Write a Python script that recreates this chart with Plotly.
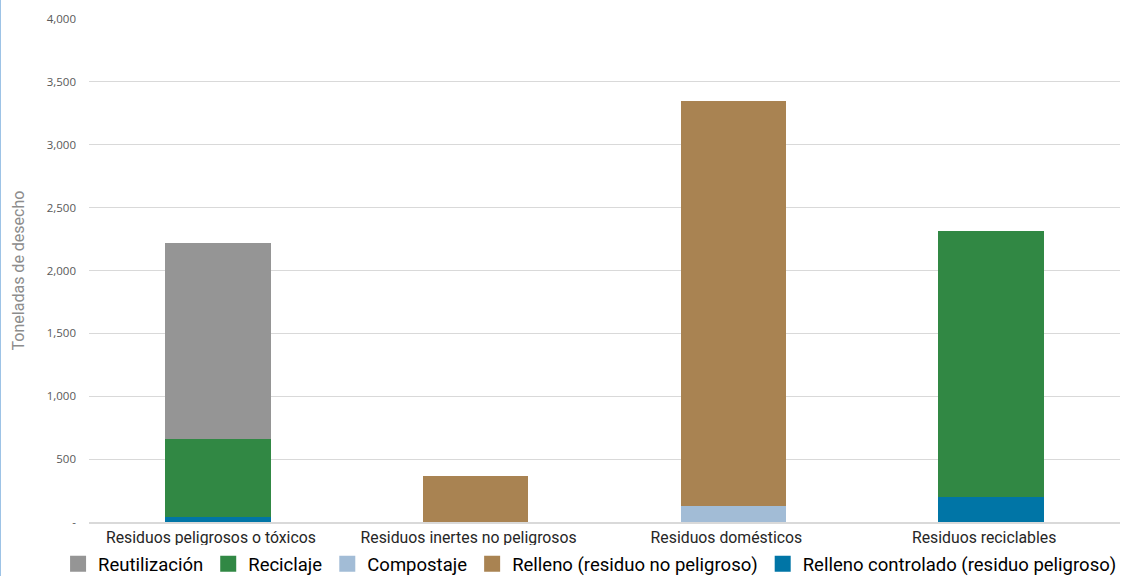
import plotly.graph_objects as go

categories = [
    "Residuos peligrosos o tóxicos",
    "Residuos inertes no peligrosos",
    "Residuos domésticos",
    "Residuos reciclables",
]

# stacked from bottom to top
relleno_controlado = [40, 0, 0, 199]
relleno = [0, 366, 3220, 0]
compostaje = [0, 0, 127, 0]
reciclaje = [620, 0, 0, 2115]
reutilizacion = [1560, 0, 0, 0]

tick_vals = [0, 500, 1000, 1500, 2000, 2500, 3000, 3500, 4000]
tick_text = ["-", "500", "1,000", "1,500", "2,000", "2,500", "3,000", "3,500", "4,000"]

# (name, values, colour, legend rank) in stacking order
series = [
    ("Relleno controlado (residuo peligroso)", relleno_controlado, "#0075a6", 5),
    ("Compostaje", compostaje, "#a2bcd6", 3),
    ("Relleno (residuo no peligroso)", relleno, "#a98352", 4),
    ("Reciclaje", reciclaje, "#318844", 2),
    ("Reutilización", reutilizacion, "#959595", 1),
]

fig = go.Figure()
for name, vals, color, rank in series:
    fig.add_trace(go.Bar(
        x=categories, y=vals, name=name,
        marker={"color": color, "line": {"width": 0}},
        showlegend=False,
    ))
    # bigger square swatches for the legend
    fig.add_trace(go.Scatter(
        x=[None], y=[None], mode="markers", name=name,
        marker={"symbol": "square", "size": 16, "color": color},
        legendrank=rank,
    ))

L, R, T, B = 89, 6, 19, 54
plot_w = 1126 - L - R

fig.update_layout(
    barmode="stack",
    bargap=0.59,
    width=1126, height=576,
    margin={"l": L, "r": R, "t": T, "b": B, "autoexpand": False},
    plot_bgcolor="white", paper_bgcolor="white",
    font={"family": "Roboto, sans-serif", "color": "#262626"},
    yaxis={
        "range": [0, 4000],
        "tickvals": tick_vals, "ticktext": tick_text,
        "tickfont": {"size": 11.5, "color": "#595959", "family": "Open Sans, sans-serif"},
        "ticklabelstandoff": 12,
        "gridcolor": "#d9d9d9", "gridwidth": 1,
        "zeroline": False,
        "ticks": "", "ticklen": 0,
        "automargin": False,
        "title": {"text": "Toneladas de desecho",
                  "font": {"size": 16, "color": "#8c8c8c"}, "standoff": 18},
        "fixedrange": True,
    },
    xaxis={
        "tickfont": {"size": 15.8, "color": "#262626"},
        "ticklabelshift": -7,
        "showline": True, "linecolor": "#d9d9d9", "linewidth": 2,
        "ticks": "",
        "automargin": False,
        "fixedrange": True,
    },
    # anchored left of the plot area so the legend may use the full width
    legend={
        "orientation": "h", "x": -0.03, "xanchor": "left",
        "y": -0.046, "yanchor": "top",
        "font": {"size": 18.5, "color": "#000000"},
        "traceorder": "normal",
        "itemwidth": 30,
    },
    showlegend=True,
)

# thin blue frame line at the page's left edge
fig.add_shape(type="line", xref="paper", yref="paper",
              x0=-(L - 0.5) / plot_w, x1=-(L - 0.5) / plot_w,
              y0=-B / (576 - T - B), y1=1 + T / (576 - T - B),
              line={"color": "#9dc3e6", "width": 1})

# the page body has a default 8px margin; drop it so the figure sits at 0,0
fig.write_html("out.html", config={"displayModeBar": False},
               post_script="document.body.style.margin='0';")
